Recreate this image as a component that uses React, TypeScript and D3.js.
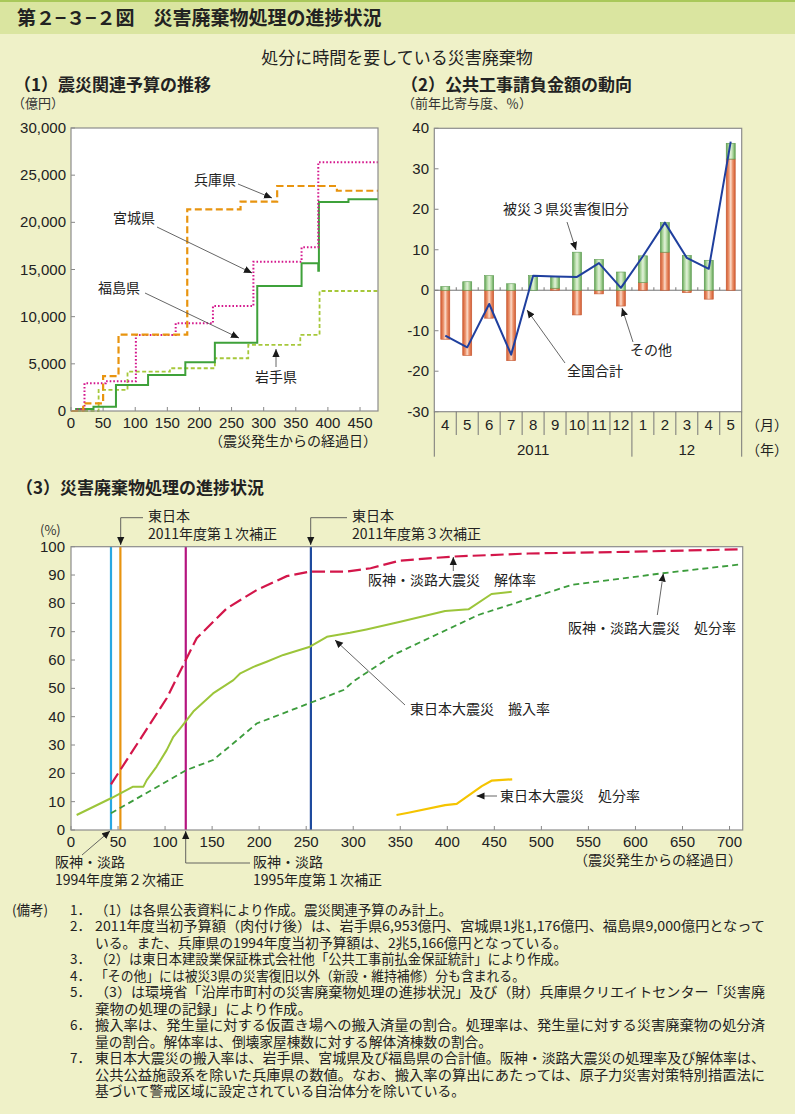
import React from "react";
import * as d3 from "d3";

// ---------------- Panel (1) data: 震災関連予算 (億円) ----------------
const budgetTicks = [0, 5000, 10000, 15000, 20000, 25000, 30000];
const budgetDayTicks = [0, 50, 100, 150, 200, 250, 300, 350, 400, 450];
const budgetDayMax = 478;

const hyogoDays = [0, 19, 50, 74, 181, 264, 321, 414];
const hyogoValues = [0, 800, 3700, 8100, 21380, 22190, 23850, 23350];

const miyagiDays = [0, 8, 21, 54, 101, 163, 221, 284, 359, 385];
const miyagiValues = [0, 150, 2940, 3150, 8060, 9300, 11130, 15830, 17350, 26370];

const fukushimaDays = [0, 8, 35, 70, 120, 178, 224, 290, 359, 385, 386, 432];
const fukushimaValues = [0, 200, 460, 2760, 3820, 5160, 7240, 13250, 15660, 14870, 22160, 22440];

const iwateDays = [0, 43, 88, 154, 224, 276, 357, 387];
const iwateValues = [0, 2230, 4170, 4530, 5590, 7000, 8060, 12720];

// ---------------- Panel (2) data: 公共工事請負金額 (前年比寄与度 %) ----------------
const months = ["4", "5", "6", "7", "8", "9", "10", "11", "12", "1", "2", "3", "4", "5"];
const yearLabels = ["2011", "12"];
const yearMonthCounts = [9, 5];
const recoveryValues = [0.9, 2.1, 3.6, 1.6, 3.6, 2.9, 9.4, 7.6, 4.5, 6.6, 7.3, 8.6, 7.4, 3.9];
const otherValues = [-12.1, -16.1, -6.9, -17.4, 0, 0.5, -6.1, -0.9, -3.9, 1.9, 9.4, -0.6, -2.2, 32.4];
const totalValues = [-11.2, -14.1, -3.4, -15.9, 3.6, 3.4, 3.3, 6.7, 0.6, 8.4, 16.7, 8.0, 5.3, 36.7];
const contribTicks = [-30, -20, -10, 0, 10, 20, 30, 40];

// ---------------- Panel (3) data: 災害廃棄物処理の進捗 (%) ----------------
const progressTicks = [0, 10, 20, 30, 40, 50, 60, 70, 80, 90, 100];
const progressDayTicks = [0, 50, 100, 150, 200, 250, 300, 350, 400, 450, 500, 550, 600, 650, 700];
const progressDayMax = 714;

const kaitaiDays = [42.5, 101.7, 122, 133.6, 165.5, 197.4, 229.3, 254, 293, 318.5, 350, 404.8, 486, 592.6, 713];
const kaitaiValues = [16.1, 46.5, 60, 67.7, 78.2, 84.7, 89.6, 91.2, 91.2, 92.4, 95.1, 96.5, 97.6, 98.2, 99.1];

const hanshinShobunDays = [42.5, 123, 151, 172.6, 197.4, 254.5, 289.6, 302, 344.5, 433, 532, 628, 713];
const hanshinShobunValues = [5.9, 21.2, 24.7, 30.6, 37.6, 44.9, 49.4, 52.9, 62.1, 75.9, 86.5, 90.6, 93.8];

const hannyuDays = [6, 42.5, 66, 77, 80.5, 91, 101.7, 108.8, 117.6, 130, 151, 172.6, 180, 194, 208, 225.7, 254, 272, 296.6, 314, 350, 380, 397.7, 422.5, 447, 468.5];
const hannyuValues = [5.3, 11.2, 15.3, 15.3, 17.6, 22.4, 28.2, 32.9, 36.5, 41.8, 48.2, 52.9, 55.3, 57.6, 59.4, 61.8, 64.7, 68.2, 69.6, 70.8, 73.5, 75.9, 77.3, 77.9, 83.3, 84.1];

const tohokuShobunDays = [346, 358.6, 397.7, 410, 436.7, 447, 469];
const tohokuShobunValues = [5.3, 6.1, 8.8, 9.2, 15.5, 17.4, 17.9];

const eventDays = [42.5, 52.5, 122, 255];
const eventColors = ["#2aa8e2", "#e8940f", "#b5157f", "#1e4a9e"];

const notesLines = [
  "（1）は各県公表資料により作成。震災関連予算のみ計上。",
  "2011年度当初予算額（肉付け後）は、岩手県6,953億円、宮城県1兆1,176億円、福島県9,000億円となって",
  "いる。また、兵庫県の1994年度当初予算額は、2兆5,166億円となっている。",
  "（2）は東日本建設業保証株式会社他「公共工事前払金保証統計」により作成。",
  "「その他」には被災3県の災害復旧以外（新設・維持補修）分も含まれる。",
  "（3）は環境省「沿岸市町村の災害廃棄物処理の進捗状況」及び（財）兵庫県クリエイトセンター「災害廃",
  "棄物の処理の記録」により作成。",
  "搬入率は、発生量に対する仮置き場への搬入済量の割合。処理率は、発生量に対する災害廃棄物の処分済",
  "量の割合。解体率は、倒壊家屋棟数に対する解体済棟数の割合。",
  "東日本大震災の搬入率は、岩手県、宮城県及び福島県の合計値。阪神・淡路大震災の処理率及び解体率は、",
  "公共公益施設系を除いた兵庫県の数値。なお、搬入率の算出にあたっては、原子力災害対策特別措置法に",
  "基づいて警戒区域に設定されている自治体分を除いている。",
];
const notesNumbers = ["1．", "2．", "", "3．", "4．", "5．", "", "6．", "", "7．", "", ""];
const notesWidths = [357, 670, 472, 472, 430, 670, 217, 670, 397, 670, 670, 370];

const JP = "'Noto Sans CJK JP','Noto Sans',sans-serif";
const NUM = "'Liberation Sans',Arial,'Noto Sans CJK JP',sans-serif";
const BG = "#eff1c8";

type P = [number, number];
const zip = (a: number[], b: number[]): P[] => a.map((d, i) => [d, b[i]] as P);

function Leader({ pts, head = true }: { pts: P[]; head?: boolean }) {
  return (
    <polyline
      points={pts.map((p) => p.join(",")).join(" ")}
      fill="none"
      stroke="#555"
      strokeWidth={0.9}
      markerEnd={head ? "url(#ah)" : undefined}
    />
  );
}

export default function App() {
  // ---- Panel 1 scales ----
  const x1 = d3.scaleLinear().domain([0, budgetDayMax]).range([71, 378]);
  const y1 = d3.scaleLinear().domain([0, 30000]).range([411, 128]);
  const step = d3
    .line<P>()
    .x((d) => x1(d[0]))
    .y((d) => y1(d[1]))
    .curve(d3.curveStepAfter);
  const ext = (days: number[], vals: number[]): P[] => [
    ...zip(days, vals),
    [budgetDayMax, vals[vals.length - 1]],
  ];

  // ---- Panel 2 scales ----
  const x2 = d3
    .scaleBand<number>()
    .domain(months.map((_, i) => i))
    .range([434.3, 741.7]);
  const bw = x2.bandwidth();
  const y2 = d3.scaleLinear().domain([-30, 40]).range([411.7, 128.3]);
  const barW = 9;
  const totalLine = d3
    .line<number>()
    .x((_, i) => (x2(i) as number) + bw / 2)
    .y((d) => y2(d));

  // ---- Panel 3 scales ----
  const x3 = d3.scaleLinear().domain([0, progressDayMax]).range([71, 742.7]);
  const y3 = d3.scaleLinear().domain([0, 100]).range([830, 546.7]);
  const line3 = d3
    .line<P>()
    .x((d) => x3(d[0]))
    .y((d) => y3(d[1]));

  const yearBounds: number[] = [0];
  yearMonthCounts.forEach((c) => yearBounds.push(yearBounds[yearBounds.length - 1] + c));
  const bandEdge = (i: number) => (i >= months.length ? 741.7 : (x2(i) as number));

  return (
    <svg
      width={795}
      height={1114}
      style={{ position: "absolute", left: 0, top: 0, display: "block" }}
      fontFamily={JP}
    >
      <defs>
        <marker
          id="ah"
          viewBox="0 0 10 10"
          refX={10}
          refY={5}
          markerWidth={8}
          markerHeight={8}
          markerUnits="userSpaceOnUse"
          orient="auto"
        >
          <path d="M0,0.5 L10,5 L0,9.5 z" fill="#1a1a1a" />
        </marker>
        <linearGradient id="gGreen" x1="0" x2="1" y1="0" y2="0">
          <stop offset="0" stopColor="#5e9f52" />
          <stop offset="0.25" stopColor="#a9d49a" />
          <stop offset="0.5" stopColor="#e3f2da" />
          <stop offset="0.75" stopColor="#a9d49a" />
          <stop offset="1" stopColor="#5e9f52" />
        </linearGradient>
        <linearGradient id="gOrange" x1="0" x2="1" y1="0" y2="0">
          <stop offset="0" stopColor="#d2592f" />
          <stop offset="0.3" stopColor="#ec9670" />
          <stop offset="0.5" stopColor="#fbdccb" />
          <stop offset="0.7" stopColor="#ec9670" />
          <stop offset="1" stopColor="#d2592f" />
        </linearGradient>
      </defs>

      {/* background and header */}
      <rect x={0} y={0} width={795} height={1114} fill={BG} />
      <rect x={0} y={0} width={795} height={34} fill="#dae5a0" />
      <rect x={0} y={0} width={795} height={2} fill="#a9c85a" />
      <text x={17} y={25} fontSize={19} fontWeight={700} fill="#222">
        第２−３−２図　災害廃棄物処理の進捗状況
      </text>
      <text x={397} y={64} fontSize={17} textAnchor="middle" fill="#222">
        処分に時間を要している災害廃棄物
      </text>

      {/* ================= Panel 1 ================= */}
      <text x={14} y={91} fontSize={17} fontWeight={700} fill="#222">
        （1）震災関連予算の推移
      </text>
      <text x={12} y={108} fontSize={13} fill="#333">
        （億円）
      </text>
      <rect x={71} y={128} width={307} height={283} fill="#fff" />
      {budgetTicks.map((t) => (
        <g key={"b" + t}>
          <line x1={71} x2={75} y1={y1(t)} y2={y1(t)} stroke="#888" />
          <text x={66} y={y1(t) + 5} fontSize={15} textAnchor="end" fontFamily={NUM} fill="#222">
            {d3.format(",")(t)}
          </text>
        </g>
      ))}
      {budgetDayTicks.map((t) => (
        <g key={"bd" + t}>
          <line x1={x1(t)} x2={x1(t)} y1={411} y2={407} stroke="#888" />
          <text x={x1(t)} y={428} fontSize={15} textAnchor="middle" fontFamily={NUM} fill="#222">
            {t}
          </text>
        </g>
      ))}
      <path d={step(ext(iwateDays, iwateValues)) || ""} fill="none" stroke="#a6c83a" strokeWidth={1.8} strokeDasharray="4,2.5" />
      <path d={step(ext(fukushimaDays, fukushimaValues)) || ""} fill="none" stroke="#3ea13a" strokeWidth={2} />
      <path d={step(ext(miyagiDays, miyagiValues)) || ""} fill="none" stroke="#d4168c" strokeWidth={2} strokeDasharray="1.6,2" />
      <path d={step(ext(hyogoDays, hyogoValues)) || ""} fill="none" stroke="#e8940f" strokeWidth={2.2} strokeDasharray="7,3.5" />
      <rect x={71} y={128} width={307} height={283} fill="none" stroke="#8c8c8c" strokeWidth={1.2} />
      <text x={377} y={446} fontSize={14} textAnchor="end" fill="#222">
        （震災発生からの経過日）
      </text>
      {/* labels */}
      <text x={194} y={185} fontSize={14} fill="#222">兵庫県</text>
      <Leader pts={[[238, 184], [272, 198]]} />
      <text x={113} y={223} fontSize={14} fill="#222">宮城県</text>
      <Leader pts={[[157, 227], [252, 273]]} />
      <text x={98} y={293} fontSize={14} fill="#222">福島県</text>
      <Leader pts={[[145, 293], [239, 338]]} />
      <text x={255} y={382} fontSize={14} fill="#222">岩手県</text>
      <Leader pts={[[276, 367], [276, 349]]} />

      {/* ================= Panel 2 ================= */}
      <text x={401} y={91} fontSize={17} fontWeight={700} fill="#222">
        （2）公共工事請負金額の動向
      </text>
      <text x={402} y={108} fontSize={13} fill="#333">
        （前年比寄与度、％）
      </text>
      <rect x={434.3} y={128.3} width={307.4} height={283.4} fill="#fff" />
      {contribTicks.map((t) => (
        <g key={"c" + t}>
          <line x1={434.3} x2={438.5} y1={y2(t)} y2={y2(t)} stroke="#888" />
          <text x={429} y={y2(t) + 5} fontSize={15} textAnchor="end" fontFamily={NUM} fill="#222">
            {t}
          </text>
        </g>
      ))}
      <line x1={434.3} x2={741.7} y1={y2(0)} y2={y2(0)} stroke="#777" strokeWidth={1} />
      {months.map((_, i) =>
        i > 0 ? (
          <line key={"zt" + i} x1={bandEdge(i)} x2={bandEdge(i)} y1={y2(0)} y2={y2(0) - 3} stroke="#777" />
        ) : null
      )}
      {months.map((_, i) => {
        const cx = (x2(i) as number) + bw / 2;
        const o = otherValues[i];
        const g = recoveryValues[i];
        const oTop = Math.max(o, 0);
        const oBot = Math.min(o, 0);
        const gBase = o > 0 ? o : 0;
        return (
          <g key={"bar" + i}>
            {o !== 0 && (
              <rect
                x={cx - barW / 2}
                y={y2(oTop)}
                width={barW}
                height={Math.abs(y2(oBot) - y2(oTop))}
                fill="url(#gOrange)"
                stroke="#c4562f"
                strokeWidth={0.6}
              />
            )}
            <rect
              x={cx - barW / 2}
              y={y2(gBase + g)}
              width={barW}
              height={y2(gBase) - y2(gBase + g)}
              fill="url(#gGreen)"
              stroke="#5a9a4e"
              strokeWidth={0.6}
            />
          </g>
        );
      })}
      <path d={totalLine(totalValues) || ""} fill="none" stroke="#1f3f9e" strokeWidth={2} strokeLinejoin="round" />
      <rect x={434.3} y={128.3} width={307.4} height={283.4} fill="none" stroke="#8c8c8c" strokeWidth={1.2} />
      {/* month axis */}
      {d3.range(months.length + 1).map((i) => {
        const outer = yearBounds.includes(i);
        return (
          <line
            key={"sep" + i}
            x1={bandEdge(i)}
            x2={bandEdge(i)}
            y1={411.7}
            y2={outer ? 456.7 : 435}
            stroke="#777"
            strokeWidth={1}
          />
        );
      })}
      {months.map((m, i) => (
        <text
          key={"m" + i}
          x={(x2(i) as number) + bw / 2}
          y={430}
          fontSize={15}
          textAnchor="middle"
          fontFamily={NUM}
          fill="#222"
        >
          {m}
        </text>
      ))}
      {yearLabels.map((yl, k) => (
        <text
          key={"y" + k}
          x={(bandEdge(yearBounds[k]) + bandEdge(yearBounds[k + 1])) / 2}
          y={455}
          fontSize={15}
          textAnchor="middle"
          fontFamily={NUM}
          fill="#222"
        >
          {yl}
        </text>
      ))}
      <text x={746} y={430} fontSize={14} fill="#222">（月）</text>
      <text x={746} y={455} fontSize={14} fill="#222">（年）</text>
      <text x={503} y={214} fontSize={14} fill="#222">被災３県災害復旧分</text>
      <Leader pts={[[567, 222], [576, 250]]} />
      <text x={567} y={376} fontSize={14} fill="#222">全国合計</text>
      <Leader pts={[[565, 363], [527, 310]]} />
      <text x={630} y={355} fontSize={14} fill="#222">その他</text>
      <Leader pts={[[633, 342], [622, 308]]} />

      {/* ================= Panel 3 ================= */}
      <text x={16} y={494} fontSize={17} fontWeight={700} fill="#222">
        （3）災害廃棄物処理の進捗状況
      </text>
      <text x={40} y={535} fontSize={13} fill="#333">(%)</text>
      <rect x={71} y={546.7} width={671.7} height={283.3} fill="#fff" />
      {eventDays.map((d, i) => (
        <line key={"ev" + i} x1={x3(d)} x2={x3(d)} y1={546.7} y2={830} stroke={eventColors[i]} strokeWidth={2.2} />
      ))}
      <path d={line3(zip(hanshinShobunDays, hanshinShobunValues)) || ""} fill="none" stroke="#3c9c3c" strokeWidth={1.8} strokeDasharray="6,4" />
      <path d={line3(zip(kaitaiDays, kaitaiValues)) || ""} fill="none" stroke="#d3164a" strokeWidth={2.2} strokeDasharray="13,5" />
      <path d={line3(zip(hannyuDays, hannyuValues)) || ""} fill="none" stroke="#9cc53a" strokeWidth={2} strokeLinejoin="round" />
      <path d={line3(zip(tohokuShobunDays, tohokuShobunValues)) || ""} fill="none" stroke="#f5c400" strokeWidth={2.2} strokeLinejoin="round" />
      {progressTicks.map((t) => (
        <g key={"p" + t}>
          <line x1={71} x2={75} y1={y3(t)} y2={y3(t)} stroke="#888" />
          <text x={65} y={y3(t) + 5} fontSize={15} textAnchor="end" fontFamily={NUM} fill="#222">
            {t}
          </text>
        </g>
      ))}
      {progressDayTicks.map((t) => (
        <g key={"pd" + t}>
          <line x1={x3(t)} x2={x3(t)} y1={830} y2={826} stroke="#888" />
          <text x={x3(t)} y={847} fontSize={15} textAnchor="middle" fontFamily={NUM} fill="#222">
            {t}
          </text>
        </g>
      ))}
      <rect x={71} y={546.7} width={671.7} height={283.3} fill="none" stroke="#8c8c8c" strokeWidth={1.2} />
      <text x={742} y={865} fontSize={14} textAnchor="end" fill="#222">
        （震災発生からの経過日）
      </text>
      {/* event labels */}
      <text x={148} y={521} fontSize={14} fill="#222">東日本</text>
      <text x={148} y={539} fontSize={14} fill="#222">2011年度第１次補正</text>
      <Leader pts={[[143, 517.7], [120.7, 517.7], [120.7, 545]]} />
      <text x={352} y={521} fontSize={14} fill="#222">東日本</text>
      <text x={352} y={539} fontSize={14} fill="#222">2011年度第３次補正</text>
      <Leader pts={[[347, 517.7], [310.7, 517.7], [310.7, 545]]} />
      <text x={55} y={867} fontSize={14} fill="#222">阪神・淡路</text>
      <text x={55} y={885} fontSize={14} fill="#222">1994年度第２次補正</text>
      <Leader pts={[[82, 855], [110, 831]]} />
      <text x={253} y={867} fontSize={14} fill="#222">阪神・淡路</text>
      <text x={253} y={885} fontSize={14} fill="#222">1995年度第１次補正</text>
      <Leader pts={[[250, 863], [185.7, 863], [185.7, 831]]} />
      {/* series labels */}
      <text x={368} y={585} fontSize={14} fill="#222">阪神・淡路大震災　解体率</text>
      <Leader pts={[[453.3, 571], [453.3, 557]]} />
      <text x={568} y={633} fontSize={14} fill="#222">阪神・淡路大震災　処分率</text>
      <Leader pts={[[657.3, 615], [663.3, 573.5]]} />
      <text x={410} y={714} fontSize={14} fill="#222">東日本大震災　搬入率</text>
      <Leader pts={[[405, 705], [335, 640]]} />
      <text x={500} y={801} fontSize={14} fill="#222">東日本大震災　処分率</text>
      <Leader pts={[[497, 796], [476.5, 796]]} />

      {/* ================= Notes ================= */}
      <text x={12} y={915} fontSize={13.5} fill="#222">
        (備考)
      </text>
      {notesLines.map((ln, i) => (
        <g key={"n" + i}>
          {notesNumbers[i] && (
            <text x={70} y={915 + i * 16.45} fontSize={13.5} fill="#222">
              {notesNumbers[i]}
            </text>
          )}
          <text
            x={95}
            y={915 + i * 16.45}
            fontSize={13.5}
            fill="#222"
            textLength={notesWidths[i]}
            lengthAdjust="spacingAndGlyphs"
          >
            {ln}
          </text>
        </g>
      ))}
    </svg>
  );
}
